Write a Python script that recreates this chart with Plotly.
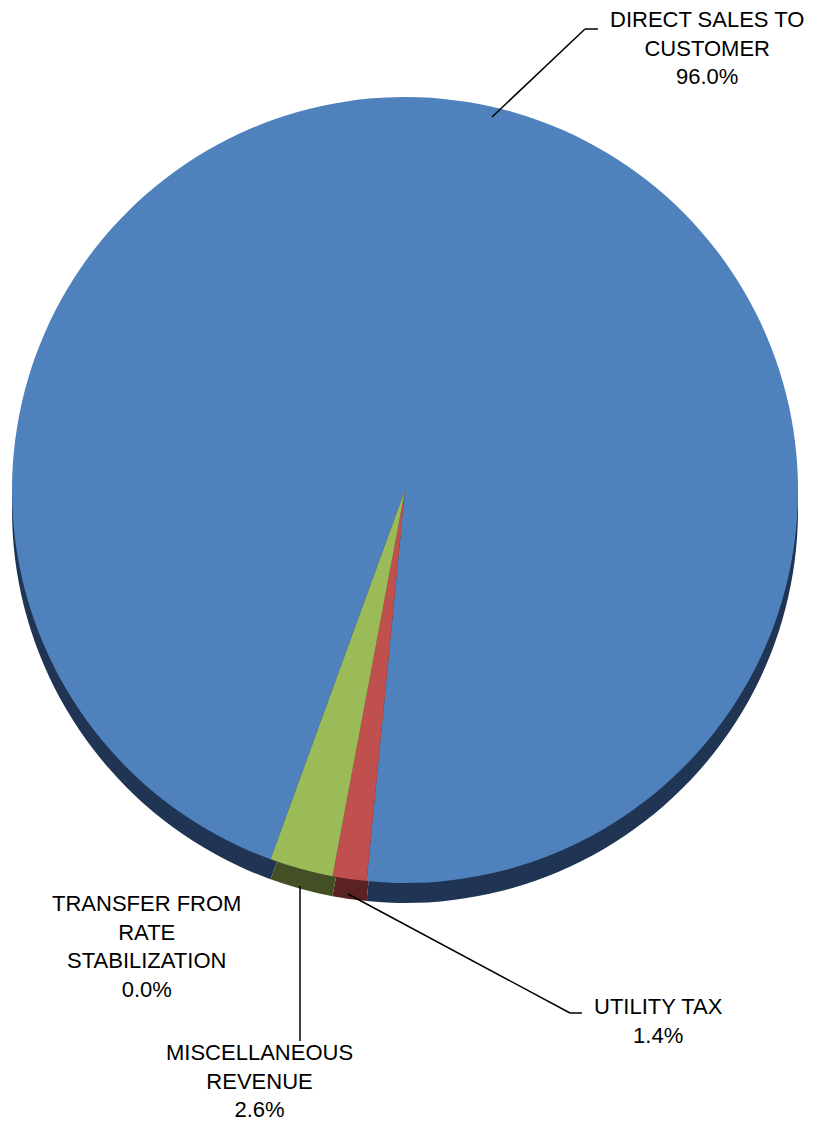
import plotly.graph_objects as go

# ---- data ----
categories = ["DIRECT SALES TO<br>CUSTOMER", "UTILITY TAX", "MISCELLANEOUS<br>REVENUE",
              "TRANSFER FROM<br>RATE<br>STABILIZATION"]
values = [96.0, 1.4, 2.6, 0.0]
top_colors = ["#4F81BD", "#C0504D", "#9BBB59", "#8064A2"]
side_colors = ["#203453", "#5A2222", "#434F25", "#3A2D4A"]

W, H = 820, 1124
def px(x): return x / W
def py(y): return 1 - y / H

cx, cy, r, depth = 405, 490, 393, 20
rotation = 200

fig = go.Figure()
# side (depth) of the 3-D pie, drawn behind
fig.add_trace(go.Pie(
    values=values, labels=categories, sort=False, direction="clockwise",
    rotation=rotation, textinfo="none", hoverinfo="skip",
    marker=dict(colors=side_colors, line=dict(width=0)),
    domain=dict(x=[px(cx - r), px(cx + r)], y=[py(cy + depth + r), py(cy + depth - r)]),
    showlegend=False))
# top face
fig.add_trace(go.Pie(
    values=values, labels=categories, sort=False, direction="clockwise",
    rotation=rotation, textinfo="none", hoverinfo="skip",
    marker=dict(colors=top_colors, line=dict(width=0)),
    domain=dict(x=[px(cx - r), px(cx + r)], y=[py(cy + r), py(cy - r)]),
    showlegend=False))

label_pos = [(707, 48), (658, 1021), (259, 1081), (146, 946)]
font = dict(family="Liberation Sans, Arial, sans-serif", size=22, color="black")
for cat, v, (x, y) in zip(categories, values, label_pos):
    fig.add_annotation(x=px(x), y=py(y), xref="paper", yref="paper",
                       text=f"{cat}<br>{v:.1f}%", showarrow=False, font=font,
                       align="center", xanchor="center", yanchor="middle")

leaders = [
    [(492, 117), (585, 29), (598, 29)],
    [(348, 894), (570, 1013), (582, 1013)],
    [(300, 886), (300, 1041)],
]
for pts in leaders:
    for (x0, y0), (x1, y1) in zip(pts[:-1], pts[1:]):
        fig.add_shape(type="line", xref="paper", yref="paper",
                      x0=px(x0), y0=py(y0), x1=px(x1), y1=py(y1),
                      line=dict(color="black", width=1.5))

fig.update_layout(width=W, height=H, margin=dict(l=0, r=0, t=0, b=0),
                  paper_bgcolor="white", plot_bgcolor="white", showlegend=False)
fig.write_html("out.html")
